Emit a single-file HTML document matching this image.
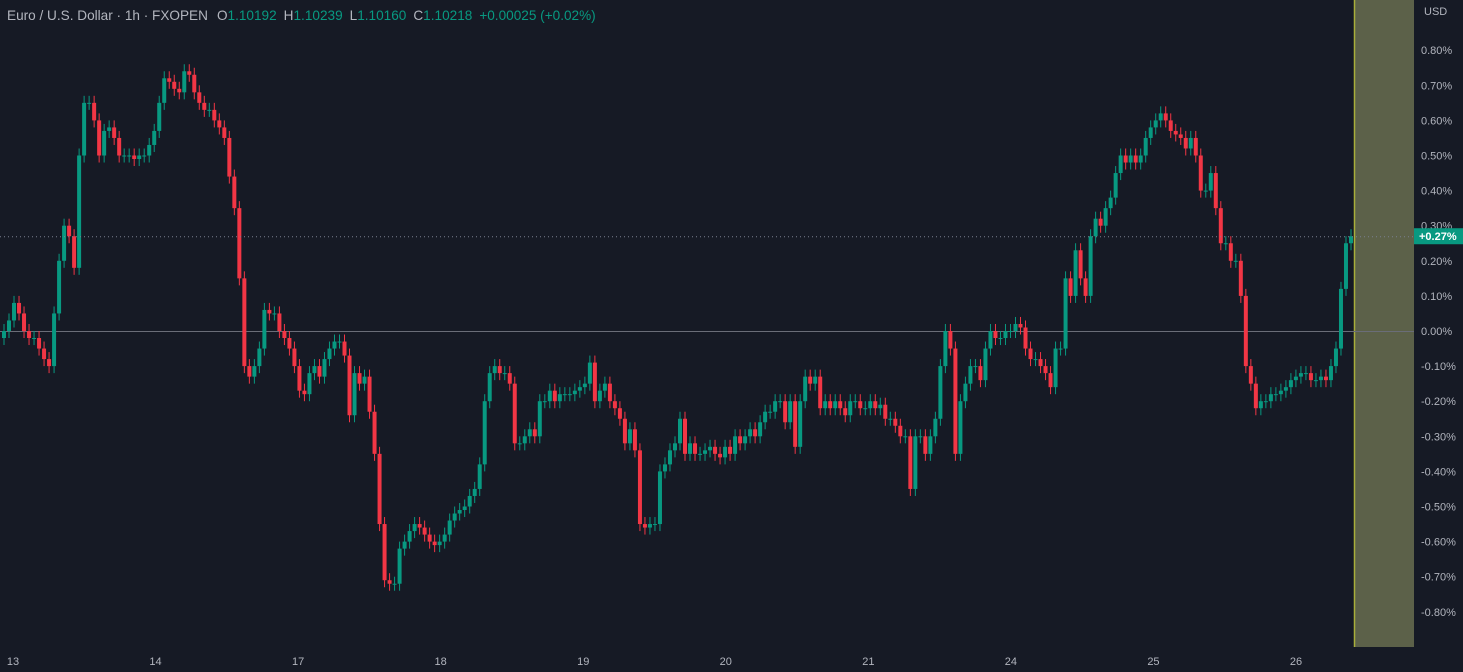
<!DOCTYPE html>
<html><head><meta charset="utf-8"><style>
body{margin:0;background:#161a25;width:1463px;height:672px;overflow:hidden;font-family:"Liberation Sans",sans-serif}
svg{display:block}
</style></head><body>
<svg id="chart" width="1463" height="672" xmlns="http://www.w3.org/2000/svg">
<rect x="0" y="0" width="1463" height="672" fill="#161a25"/>
<rect x="1354" y="0" width="60" height="647" fill="#5c6149"/>
<line x1="1354.5" y1="0" x2="1354.5" y2="647" stroke="#a8ae3a" stroke-width="1.5"/>
<line x1="0" y1="331.5" x2="1414" y2="331.5" stroke="#6a6d78" stroke-width="1"/>
<g id="candles"></g>
<line id="lastline" x1="0" x2="1414" stroke="#7a8090" stroke-dasharray="1 3"/>
<g id="yaxis"></g>
<g id="xaxis"></g>
<text x="1424" y="15" fill="#b2b5be" font-size="11">USD</text>
<text x="7" y="20" font-size="13.6"><tspan fill="#b2b5be">Euro / U.S. Dollar · 1h · FXOPEN</tspan><tspan fill="#b2b5be" dx="9">O</tspan><tspan fill="#089981">1.10192</tspan><tspan fill="#b2b5be" dx="7">H</tspan><tspan fill="#089981">1.10239</tspan><tspan fill="#b2b5be" dx="7">L</tspan><tspan fill="#089981">1.10160</tspan><tspan fill="#b2b5be" dx="7">C</tspan><tspan fill="#089981">1.10218</tspan><tspan fill="#089981" dx="7">+0.00025 (+0.02%)</tspan></text>
</svg>
<script>
const closes=[0.0,0.03,0.08,0.05,0.0,-0.02,-0.02,-0.05,-0.08,-0.1,0.05,0.2,0.3,0.27,0.18,0.5,0.65,0.65,0.6,0.5,0.57,0.58,0.55,0.5,0.5,0.5,0.49,0.5,0.5,0.53,0.57,0.65,0.72,0.71,0.69,0.68,0.74,0.73,0.68,0.65,0.63,0.63,0.6,0.58,0.55,0.44,0.35,0.15,-0.1,-0.13,-0.1,-0.05,0.06,0.05,0.05,0.0,-0.02,-0.05,-0.1,-0.17,-0.18,-0.12,-0.1,-0.13,-0.08,-0.05,-0.03,-0.03,-0.07,-0.24,-0.12,-0.15,-0.13,-0.23,-0.35,-0.55,-0.71,-0.72,-0.72,-0.62,-0.6,-0.57,-0.55,-0.56,-0.58,-0.6,-0.61,-0.6,-0.58,-0.54,-0.52,-0.51,-0.5,-0.47,-0.45,-0.38,-0.2,-0.12,-0.1,-0.12,-0.12,-0.15,-0.32,-0.32,-0.3,-0.28,-0.3,-0.2,-0.2,-0.17,-0.2,-0.18,-0.18,-0.18,-0.17,-0.16,-0.15,-0.09,-0.2,-0.17,-0.15,-0.2,-0.22,-0.25,-0.32,-0.28,-0.34,-0.55,-0.56,-0.55,-0.55,-0.4,-0.38,-0.34,-0.32,-0.25,-0.35,-0.32,-0.35,-0.35,-0.34,-0.33,-0.35,-0.36,-0.33,-0.35,-0.3,-0.32,-0.3,-0.28,-0.3,-0.26,-0.23,-0.23,-0.2,-0.2,-0.26,-0.2,-0.33,-0.2,-0.13,-0.15,-0.13,-0.22,-0.2,-0.22,-0.2,-0.22,-0.24,-0.2,-0.2,-0.22,-0.22,-0.2,-0.22,-0.21,-0.25,-0.25,-0.27,-0.3,-0.3,-0.45,-0.3,-0.3,-0.35,-0.3,-0.25,-0.1,0.0,-0.05,-0.35,-0.2,-0.15,-0.1,-0.1,-0.14,-0.05,0.0,-0.02,-0.02,0.0,0.0,0.02,0.01,-0.05,-0.08,-0.08,-0.1,-0.12,-0.16,-0.05,-0.05,0.15,0.1,0.23,0.15,0.1,0.27,0.32,0.3,0.35,0.38,0.45,0.5,0.48,0.5,0.48,0.5,0.55,0.58,0.6,0.62,0.6,0.57,0.56,0.55,0.52,0.55,0.5,0.4,0.4,0.45,0.35,0.25,0.25,0.2,0.2,0.1,-0.1,-0.15,-0.22,-0.2,-0.2,-0.18,-0.18,-0.17,-0.16,-0.14,-0.13,-0.12,-0.12,-0.14,-0.14,-0.13,-0.14,-0.1,-0.05,0.12,0.25,0.27];
const yTicks=[0.8,0.7,0.6,0.5,0.4,0.3,0.2,0.1,0,-0.1,-0.2,-0.3,-0.4,-0.5,-0.6,-0.7,-0.8];
const dayLabels=["13","14","17","18","19","20","21","24","25","26"];
const dayPos=[0,24,48,72,96,120,144,168,192,216];
const NS="http://www.w3.org/2000/svg";
const y=v=>331-v*351;
const step=1352/(closes.length);
const x=i=>2+i*step;
const xd=d=>13+d*(1283/216);
const cg=document.getElementById('candles');
for(let i=0;i<closes.length;i++){
  const o=i?closes[i-1]:closes[0]-0.02, c=closes[i];
  const hi=Math.max(o,c)+0.02, lo=Math.min(o,c)-0.02;
  const col=c>=o?'#089981':'#f23645';
  const cx=x(i)+2;
  const w=document.createElementNS(NS,'line');
  w.setAttribute('x1',cx);w.setAttribute('x2',cx);w.setAttribute('y1',y(hi));w.setAttribute('y2',y(lo));w.setAttribute('stroke',col);
  
  
  cg.appendChild(w);
  const b=document.createElementNS(NS,'rect');
  const t=y(Math.max(o,c)),bt=y(Math.min(o,c));
  b.setAttribute('x',x(i));b.setAttribute('width',4);b.setAttribute('y',t);b.setAttribute('height',Math.max(1,bt-t));b.setAttribute('fill',col);
  
  
  cg.appendChild(b);
}
const last=closes[closes.length-1];
const ll=document.getElementById('lastline');
ll.setAttribute('y1',y(last)+0.5);ll.setAttribute('y2',y(last)+0.5);
const ya=document.getElementById('yaxis');
yTicks.forEach(v=>{
  const t=document.createElementNS(NS,'text');
  t.setAttribute('x',1421);t.setAttribute('y',y(v)+4);t.setAttribute('fill','#b2b5be');t.setAttribute('font-size','11');
  t.textContent=v.toFixed(2)+'%';
  
  
  ya.appendChild(t);
});
const lb=document.createElementNS(NS,'rect');
lb.setAttribute('x',1414);lb.setAttribute('y',y(last)-8);lb.setAttribute('width',49);lb.setAttribute('height',16);lb.setAttribute('fill','#089981');


ya.appendChild(lb);
const lt=document.createElementNS(NS,'text');
lt.setAttribute('x',1419);lt.setAttribute('y',y(last)+4);lt.setAttribute('fill','#fff');lt.setAttribute('font-size','11');lt.setAttribute('font-weight','bold');
lt.textContent='+'+last.toFixed(2)+'%';


ya.appendChild(lt);
const xa=document.getElementById('xaxis');
dayLabels.forEach((d,k)=>{
  const t=document.createElementNS(NS,'text');
  t.setAttribute('x',xd(dayPos[k]));t.setAttribute('y',665);t.setAttribute('fill','#b2b5be');t.setAttribute('font-size','11');t.setAttribute('text-anchor','middle');
  t.textContent=d;
  
  
  xa.appendChild(t);
});
</script>
</body></html>
